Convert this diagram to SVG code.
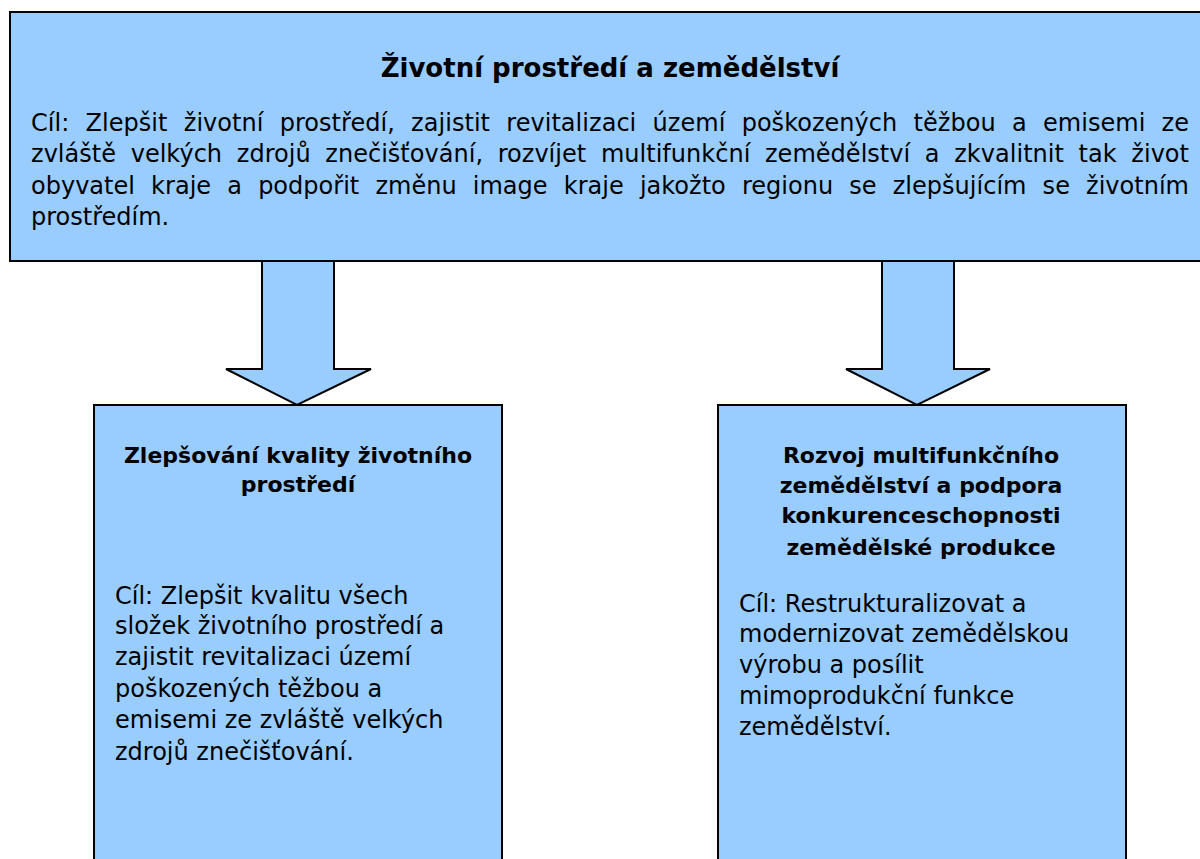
<svg xmlns="http://www.w3.org/2000/svg" width="1200" height="859" viewBox="0 0 1200 859">
<style>
.box{fill:#99CCFF;stroke:#000;stroke-width:2}
.t{font-family:"DejaVu Sans","Liberation Sans",sans-serif;fill:#000}
.h{font-weight:bold}
.b{font-size:24px}
.s{font-size:22px}
</style>
<rect width="1200" height="859" fill="#fff"/>
<g id="top">
<rect class="box" x="10" y="12" width="1195" height="249"/>
<text class="t h" x="610" y="77" font-size="26" text-anchor="middle">Životní prostředí a zemědělství</text>
<text class="t b" x="31" y="131" word-spacing="8.6" textLength="1158" lengthAdjust="spacing">Cíl: Zlepšit životní prostředí, zajistit revitalizaci území poškozených těžbou a emisemi ze</text>
<text class="t b" x="31" y="162" word-spacing="7" textLength="1158" lengthAdjust="spacing">zvláště velkých zdrojů znečišťování, rozvíjet multifunkční zemědělství a zkvalitnit tak život</text>
<text class="t b" x="31" y="194" word-spacing="8.5" textLength="1158" lengthAdjust="spacing">obyvatel kraje a podpořit změnu image kraje jakožto regionu se zlepšujícím se životním</text>
<text class="t b" x="31" y="225">prostředím.</text>
</g>
<g id="connectors">
<polygon class="box" points="262,261 334,261 334,369 371,369 297,405 226,369 262,369"/>
<polygon class="box" points="882,261 954,261 954,369 990,369 917,405 846,369 882,369"/>
</g>
<g id="left">
<rect class="box" x="94" y="405" width="408" height="470"/>
<text class="t h s" x="298" y="463" text-anchor="middle">Zlepšování kvality životního</text>
<text class="t h s" x="298" y="492" text-anchor="middle">prostředí</text>
<text class="t b" x="115" y="604">Cíl: Zlepšit kvalitu všech</text>
<text class="t b" x="115" y="634">složek životního prostředí a</text>
<text class="t b" x="115" y="665">zajistit revitalizaci území</text>
<text class="t b" x="115" y="697">poškozených těžbou a</text>
<text class="t b" x="115" y="728">emisemi ze zvláště velkých</text>
<text class="t b" x="115" y="760">zdrojů znečišťování.</text>
</g>
<g id="right">
<rect class="box" x="718" y="405" width="408" height="470"/>
<text class="t h s" x="921" y="463" text-anchor="middle">Rozvoj multifunkčního</text>
<text class="t h s" x="921" y="493" text-anchor="middle">zemědělství a podpora</text>
<text class="t h s" x="921" y="523" text-anchor="middle">konkurenceschopnosti</text>
<text class="t h s" x="921" y="555" text-anchor="middle">zemědělské produkce</text>
<text class="t b" x="739" y="612">Cíl: Restrukturalizovat a</text>
<text class="t b" x="739" y="642">modernizovat zemědělskou</text>
<text class="t b" x="739" y="673">výrobu a posílit</text>
<text class="t b" x="739" y="704">mimoprodukční funkce</text>
<text class="t b" x="739" y="735">zemědělství.</text>
</g>
</svg>
